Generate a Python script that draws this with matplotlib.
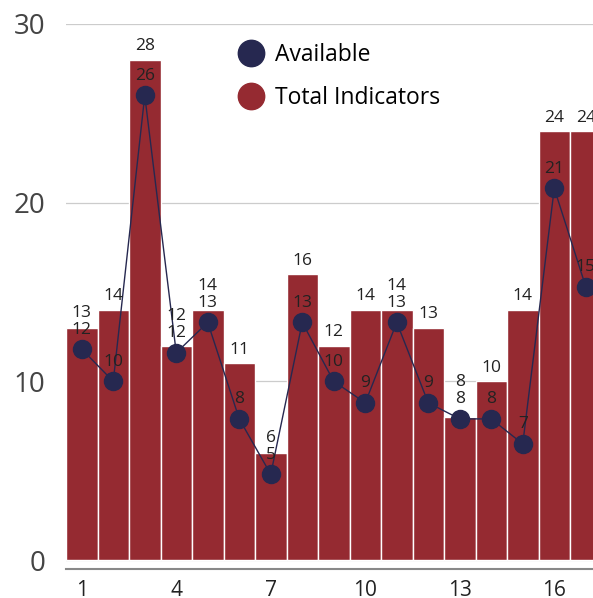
import matplotlib.pyplot as plt
from matplotlib.lines import Line2D

plt.rcParams['font.family'] = ['Open Sans', 'DejaVu Sans']

categories = list(range(1, 18))
total_indicators = [13, 14, 28, 12, 14, 11, 6, 16, 12, 14, 14, 13, 8, 10, 14, 24, 24]
available = [11.8, 10.0, 26.0, 11.6, 13.3, 7.9, 4.8, 13.3, 10.0, 8.8, 13.3, 8.8, 7.9, 7.9, 6.5, 20.8, 15.3]
x_ticks = [1, 4, 7, 10, 13, 16]
y_ticks = [0, 10, 20, 30]

bar_color = '#952a31'
dot_color = '#262850'

fig = plt.figure(figsize=(5.93, 5.98), dpi=100)
ax = fig.add_axes([0.1113, 0.0485, 0.8887, 0.9114])

ax.bar(categories, total_indicators, width=1.0, color=bar_color,
       edgecolor='white', linewidth=1.0, zorder=2)
ax.plot(categories, available, color=dot_color, linewidth=1.0, zorder=3)
ax.plot(categories, available, 'o', color=dot_color, markersize=13, zorder=4)

# data labels, stacked when they would collide
for x, t, a in zip(categories, total_indicators, available):
    ya = a + 1.1
    yt = max(t + 0.75, ya + 0.95)
    ax.text(x, ya, f'{int(a + 0.5)}', ha='center', va='center', fontsize=12.5,
            color='#222222', zorder=5)
    ax.text(x, yt, f'{t}', ha='center', va='center', fontsize=12.5,
            color='#222222', zorder=5)

ax.set_xlim(0.5, 17.23)
ax.set_ylim(-0.5, 30)
ax.set_yticks(y_ticks)
ax.set_xticks(x_ticks)
ax.tick_params(axis='y', length=0, pad=15, labelsize=20, labelcolor='#444444')
ax.tick_params(axis='x', length=0, pad=8, labelsize=15, labelcolor='#222222')
ax.grid(axis='y', color='#cccccc', linewidth=0.9, zorder=0)
for s in ['top', 'right', 'left']:
    ax.spines[s].set_visible(False)
ax.spines['bottom'].set_color('#888888')
ax.spines['bottom'].set_linewidth(1.5)

handles = [
    Line2D([], [], marker='o', linestyle='', color=dot_color, markersize=19),
    Line2D([], [], marker='o', linestyle='', color=bar_color, markersize=19),
]
ax.legend(handles, ['Available', 'Total Indicators'], loc='upper left',
          bbox_to_anchor=(0.285, 1.003), frameon=False, fontsize=16.5,
          handletextpad=0.45, labelspacing=0.85, handlelength=1.2)

fig.savefig('out.png', dpi=100)
